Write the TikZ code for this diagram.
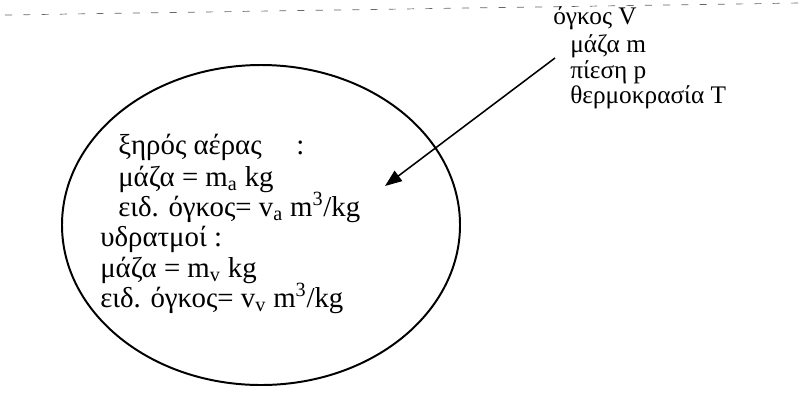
\documentclass[tikz,border=0pt]{standalone}
\usepackage{fontspec}
\setmainfont{Liberation Serif}
\usetikzlibrary{arrows.meta}
\tikzset{
	lbl/.style={anchor=base west,inner sep=0pt,font=\fontsize{18}{21}\selectfont},
	inlbl/.style={lbl,font=\fontsize{20.5}{24}\selectfont},
	rim/.style={draw=black,line width=1.4pt},
	ptr/.style={draw=black,line width=1.1pt,-{Triangle[length=12pt,width=9pt]}},
	scan/.style={draw=black!60,line width=0.5pt,dash pattern=on 5pt off 8pt},
}

\begin{document}
\begin{tikzpicture}[x=0.025cm,y=-0.025cm]
	\useasboundingbox (0,0) rectangle (800,397);
	\draw[scan] (5,15) -- (800,3);
	\draw[rim] (261,225) ellipse [x radius=199,y radius=160];
	\node[inlbl] (dry) at (118,154) {ξηρός αέρας\hspace{1.2em}:};
	\node[inlbl] (drym) at (118,186) {μάζα = m\textsubscript{a} kg};
	\node[inlbl] (dryv) at (118,216) {ειδ. όγκος= v\textsubscript{a} m\textsuperscript{3}/kg};
	\node[inlbl] (wet) at (100,246) {υδρατμοί :};
	\node[inlbl] (wetm) at (100,277) {μάζα = m\textsubscript{v} kg};
	\node[inlbl] (wetv) at (100,307) {ειδ. όγκος= v\textsubscript{v} m\textsuperscript{3}/kg};
	\node[lbl] (vol) at (553,24) {όγκος V};
	\node[lbl] (mass) at (570,52) {μάζα m};
	\node[lbl] (pres) at (570,78) {πίεση p};
	\node[lbl] (temp) at (570,103) {θερμοκρασία T};
	\coordinate (from) at (555,58);
	\coordinate (to) at (385,186);
	\draw[ptr] (from) -- (to);
\end{tikzpicture}
\end{document}
